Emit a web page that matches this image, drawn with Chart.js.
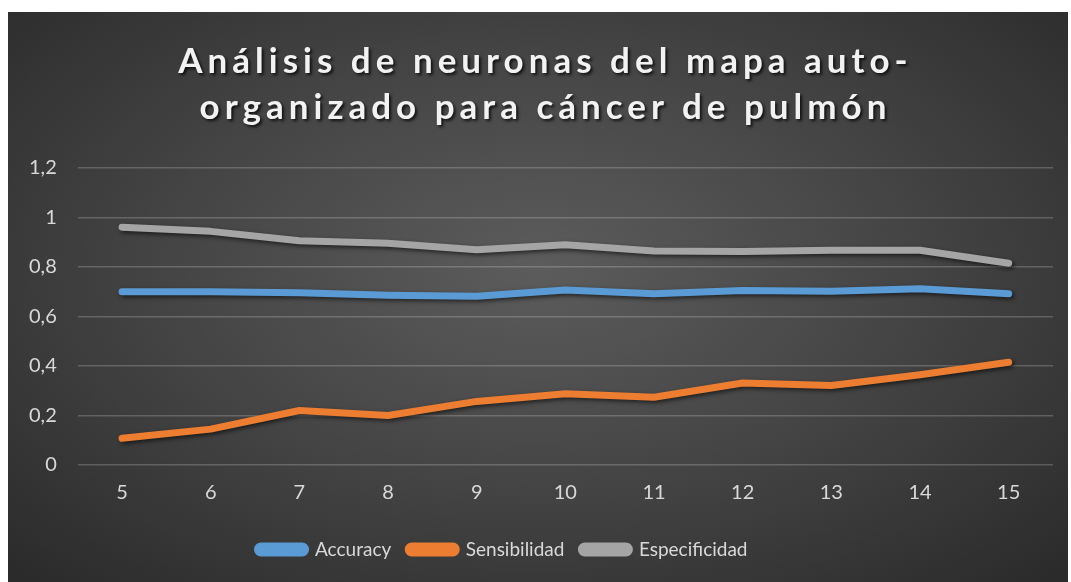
<!DOCTYPE html>
<html>
<head>
<meta charset="utf-8">
<script src="https://cdn.jsdelivr.net/npm/chart.js@4.4.1/dist/chart.umd.min.js"></script>
<style>
  html, body { margin: 0; padding: 0; background: #fff; }
  #box {
    position: absolute; left: 8px; top: 12px; width: 1060px; height: 570px;
    background: radial-gradient(ellipse 70% 75% at 50% 45%, #5c5c5c 0%, #474747 45%, #2b2b2b 100%);
    overflow: hidden;
  }
  #title {
    position: absolute; left: 0; top: 24px; width: 100%;
    text-align: center; color: #f2f2f2; padding-left: 15px; box-sizing: border-box;
    font: bold 35px Lato, sans-serif; letter-spacing: 5px; line-height: 46px;
    text-shadow: 2px 2px 3px rgba(0,0,0,0.75);
  }
  canvas { position: absolute; left: 0; top: 0; }
</style>
</head>
<body>
<div id="box">
  <canvas id="myChart" width="1060" height="570"></canvas>
  <div id="title">Análisis de neuronas del mapa auto-<br>organizado para cáncer de pulmón</div>
</div>
<script>
// data
const categories = ['5', '6', '7', '8', '9', '10', '11', '12', '13', '14', '15'];
const accuracy = [0.700, 0.700, 0.696, 0.686, 0.682, 0.707, 0.692, 0.705, 0.702, 0.712, 0.692];
const sensibilidad = [0.108, 0.145, 0.220, 0.200, 0.257, 0.288, 0.274, 0.331, 0.321, 0.365, 0.415];
const especificidad = [0.961, 0.944, 0.906, 0.896, 0.870, 0.890, 0.865, 0.863, 0.868, 0.868, 0.815];
const seriesNames = ['Accuracy', 'Sensibilidad', 'Especificidad'];
const yMin = 0, yMax = 1.2, yStep = 0.2;

const colors = ['#5b9bd5', '#ed7d31', '#a5a5a5'];

// soft shadow under the lines, like the office style
const lineShadow = {
  id: 'lineShadow',
  beforeDatasetDraw(chart) {
    const ctx = chart.ctx;
    ctx.save();
    ctx.shadowColor = 'rgba(0,0,0,0.6)';
    ctx.shadowBlur = 4;
    ctx.shadowOffsetX = 2;
    ctx.shadowOffsetY = 2;
  },
  afterDatasetDraw(chart) {
    chart.ctx.restore();
  }
};

// legend in the original sits a bit left of centre
const legendShift = {
  id: 'legendShift',
  afterLayout(chart) {
    chart.legend.left -= 28;
    chart.legend.right -= 28;
  }
};

function makeSet(i, values) {
  return {
    label: seriesNames[i],
    data: values,
    borderColor: colors[i],
    backgroundColor: colors[i],
    borderWidth: 7,
    borderCapStyle: 'round',
    borderJoinStyle: 'round',
    pointRadius: 0,
    tension: 0,
    fill: false
  };
}

const ctx = document.getElementById('myChart').getContext('2d');
const myChart = new Chart(ctx, {
  type: 'line',
  data: {
    labels: categories,
    datasets: [makeSet(0, accuracy), makeSet(1, sensibilidad), makeSet(2, especificidad)]
  },
  options: {
    responsive: false,
    animation: false,
    layout: { padding: { top: 156, left: 0, right: 15, bottom: 13 } },
    plugins: {
      title: { display: false },
      tooltip: { enabled: false },
      legend: {
        position: 'bottom',
        labels: {
          color: '#d9d9d9',
          font: { family: 'Lato', size: 19 },
          boxWidth: 48,
          boxHeight: 7,
          useBorderRadius: true,
          borderRadius: 3.5,
          padding: 17
        }
      }
    },
    scales: {
      x: {
        offset: true,
        grid: { display: false },
        border: { display: false },
        ticks: { color: '#d9d9d9', font: { family: 'Lato', size: 20 }, padding: 8 },
        afterFit(scale) { scale.height += 10; }
      },
      y: {
        min: yMin,
        max: yMax,
        grid: { color: 'rgba(255,255,255,0.2)', lineWidth: 1.5, drawTicks: false },
        border: { display: false },
        ticks: {
          stepSize: yStep,
          color: '#d9d9d9',
          font: { family: 'Lato', size: 20 },
          padding: 21,
          callback: v => String(Math.round(v * 10) / 10).replace('.', ',')
        }
      }
    }
  },
  plugins: [lineShadow, legendShift]
});
</script>
</body>
</html>
